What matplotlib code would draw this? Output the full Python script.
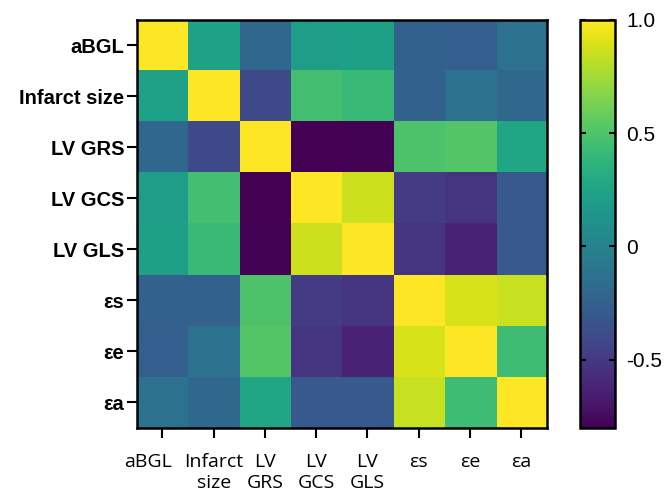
import numpy as np
import matplotlib
matplotlib.use("Agg")
import matplotlib.pyplot as plt
from matplotlib.transforms import ScaledTranslation

plt.rcParams['axes.unicode_minus'] = False

# variable names
row_labels = ['aBGL', 'Infarct size', 'LV GRS', 'LV GCS', 'LV GLS', 'εs', 'εe', 'εa']
col_labels = ['aBGL', 'Infarct\nsize', 'LV\nGRS', 'LV\nGCS', 'LV\nGLS', 'εs', 'εe', 'εa']

# correlation values
r_aBGL    = [1.00,  0.23, -0.20,  0.20,  0.22, -0.24, -0.26, -0.13]
r_infarct = [0.23,  1.00, -0.40,  0.46,  0.42, -0.24, -0.13, -0.20]
r_grs     = [-0.20, -0.40, 1.00, -0.80, -0.79,  0.50,  0.52,  0.26]
r_gcs     = [0.20,  0.46, -0.80,  1.00,  0.86, -0.48, -0.53, -0.30]
r_gls     = [0.22,  0.42, -0.79,  0.86,  1.00, -0.52, -0.62, -0.30]
r_es      = [-0.24, -0.24, 0.50, -0.48, -0.52,  1.00,  0.89,  0.85]
r_ee      = [-0.26, -0.13, 0.52, -0.53, -0.62,  0.89,  1.00,  0.44]
r_ea      = [-0.13, -0.20, 0.26, -0.30, -0.30,  0.85,  0.44,  1.00]

corr = np.array([r_aBGL, r_infarct, r_grs, r_gcs, r_gls, r_es, r_ee, r_ea])

cbar_ticks = [-0.5, 0, 0.5, 1.0]
cbar_ticklabels = ['-0.5', '0', '0.5', '1.0']

fig = plt.figure(figsize=(6.67, 4.94), dpi=100)
ax = fig.add_axes([0.205, 0.134, 0.615, 0.826])
cax = fig.add_axes([0.8696, 0.134, 0.0525, 0.826])

im = ax.imshow(corr, cmap='viridis', vmin=-0.8, vmax=1.0, aspect='auto')

ax.set_xticks(range(len(col_labels)))
ax.set_xticklabels(col_labels, fontsize=14, family='Open Sans', linespacing=1.2)
ax.set_yticks(range(len(row_labels)))
ax.set_yticklabels(row_labels, fontsize=14.5, fontweight='bold', family='Liberation Sans')
ax.tick_params(axis='both', length=7, width=1.5, color='black')
ax.tick_params(axis='x', pad=11)
ax.tick_params(axis='y', pad=2)
for s in ax.spines.values():
    s.set_linewidth(1.8)

# first x label sits a little left of its tick in the original
lab0 = ax.get_xticklabels()[0]
lab0.set_transform(lab0.get_transform() + ScaledTranslation(-0.14, 0, fig.dpi_scale_trans))

cb = fig.colorbar(im, cax=cax)
cb.set_ticks(cbar_ticks)
cb.set_ticklabels(cbar_ticklabels)
cb.outline.set_linewidth(1.8)
cax.tick_params(direction='in', left=True, right=True, length=4, width=1.5,
                labelsize=15, pad=8)
for t in cax.get_yticklabels():
    t.set_family('Liberation Sans')

fig.savefig('out.png', dpi=100)
